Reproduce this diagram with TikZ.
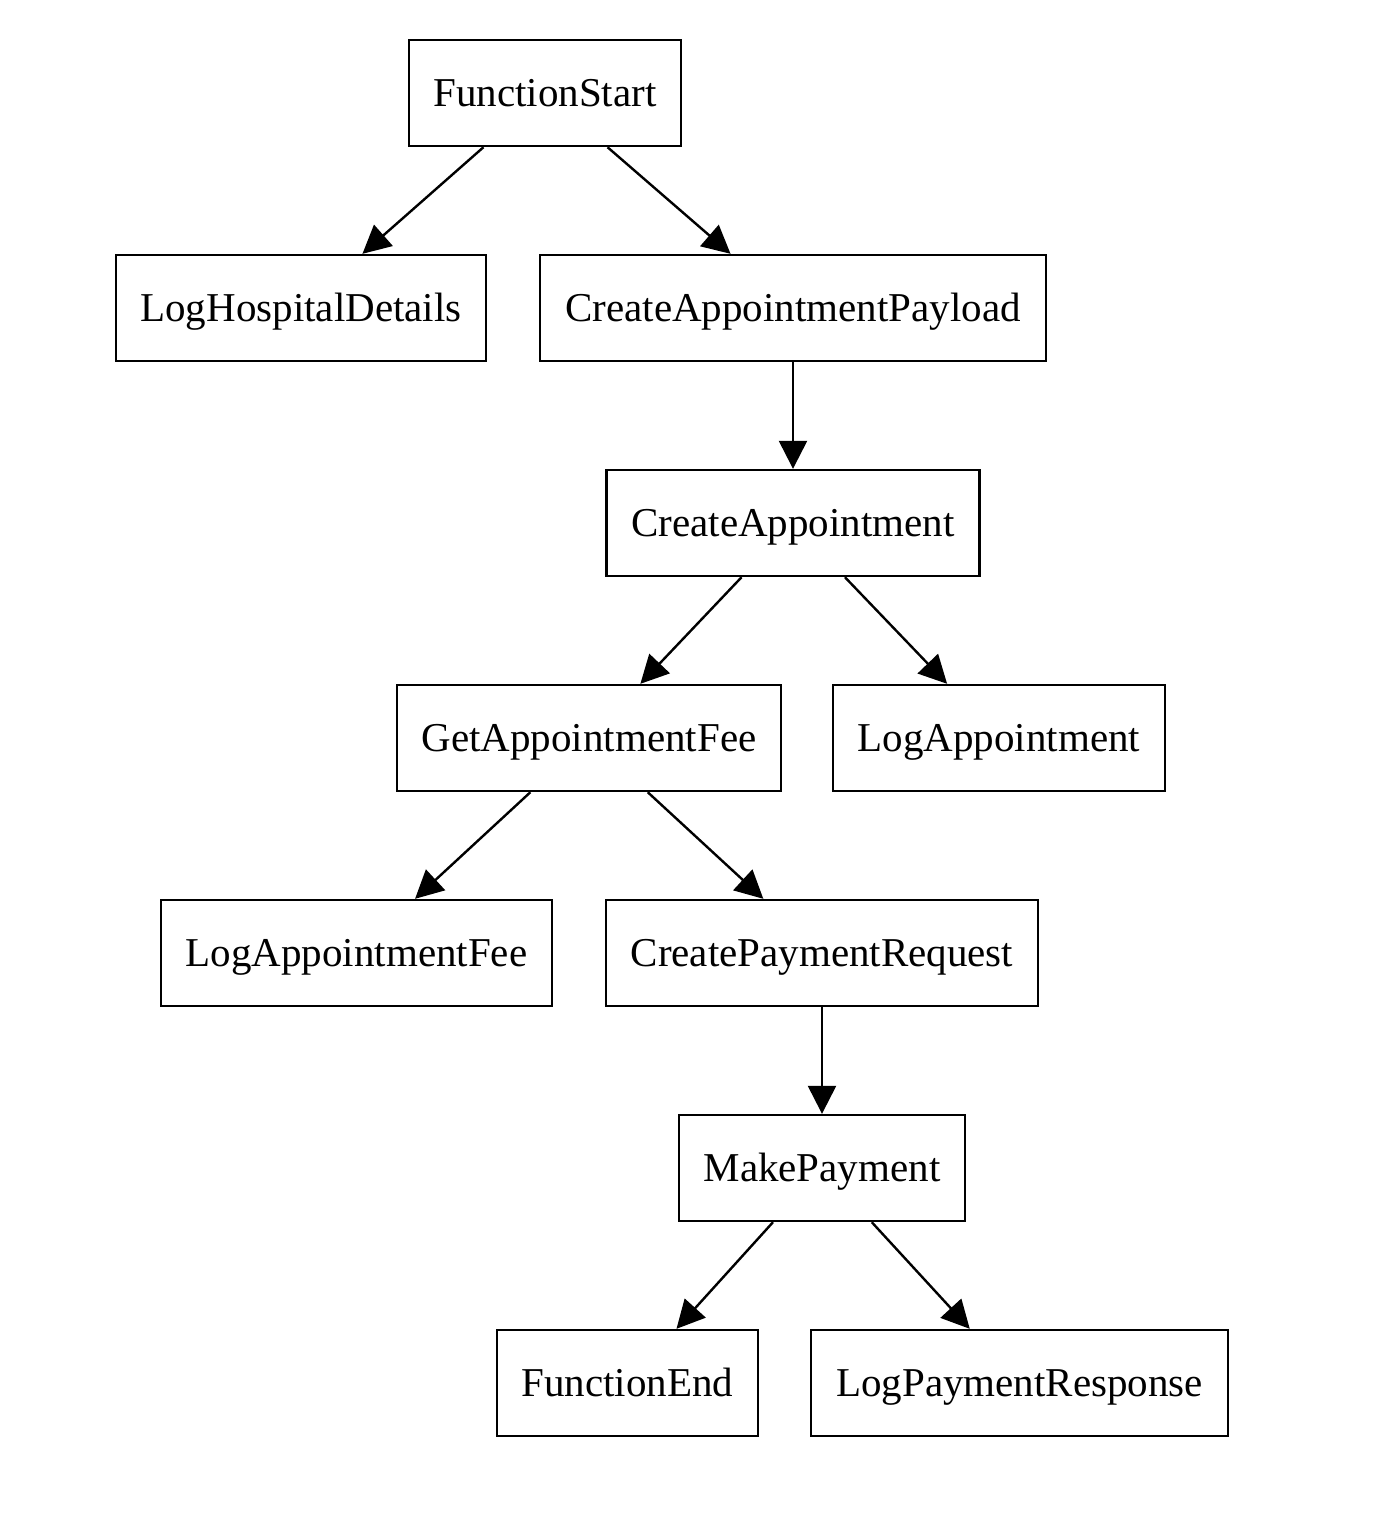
\documentclass[tikz,border=0pt]{standalone}
\usepackage{fontspec}
\setmainfont{Liberation Serif}
\usetikzlibrary{arrows.meta}
\begin{document}
\begin{tikzpicture}[x=0.5pt,y=-0.5pt,
  box/.style={draw,line width=1.2pt,rectangle,inner sep=0pt,minimum height=53pt,
    text height=13.5pt,text depth=0pt,
    font=\fontsize{20.5}{24}\selectfont},
  flow/.style={line width=1.2pt,-{Triangle[length=14pt,width=14pt]}}]
\useasboundingbox (0,0) rectangle (1378,1528);
\node[box,minimum width=136pt] (fs)  at (545,93)    {FunctionStart};
\node[box,minimum width=185pt] (lhd) at (301,308)   {LogHospitalDetails};
\node[box,minimum width=253pt] (cap) at (793,308)   {CreateAppointmentPayload};
\node[box,minimum width=186.5pt] (ca) at (793,523) {CreateAppointment};
\node[box,minimum width=192pt] (gaf) at (589,738)   {GetAppointmentFee};
\node[box,minimum width=166pt] (la)  at (999,738)   {LogAppointment};
\node[box,minimum width=195.5pt] (laf) at (356.5,953) {LogAppointmentFee};
\node[box,minimum width=216pt] (cpr) at (822,953)   {CreatePaymentRequest};
\node[box,minimum width=143pt] (mp)  at (822,1168)  {MakePayment};
\node[box,minimum width=130.5pt] (fe) at (627.5,1383) {FunctionEnd};
\node[box,minimum width=208.5pt] (lpr) at (1019.5,1383) {LogPaymentResponse};
\draw[flow] (fs) -- (lhd);
\draw[flow] (fs) -- (cap);
\draw[flow] (cap) -- (ca);
\draw[flow] (ca) -- (gaf);
\draw[flow] (ca) -- (la);
\draw[flow] (gaf) -- (laf);
\draw[flow] (gaf) -- (cpr);
\draw[flow] (cpr) -- (mp);
\draw[flow] (mp) -- (fe);
\draw[flow] (mp) -- (lpr);
\end{tikzpicture}
\end{document}
